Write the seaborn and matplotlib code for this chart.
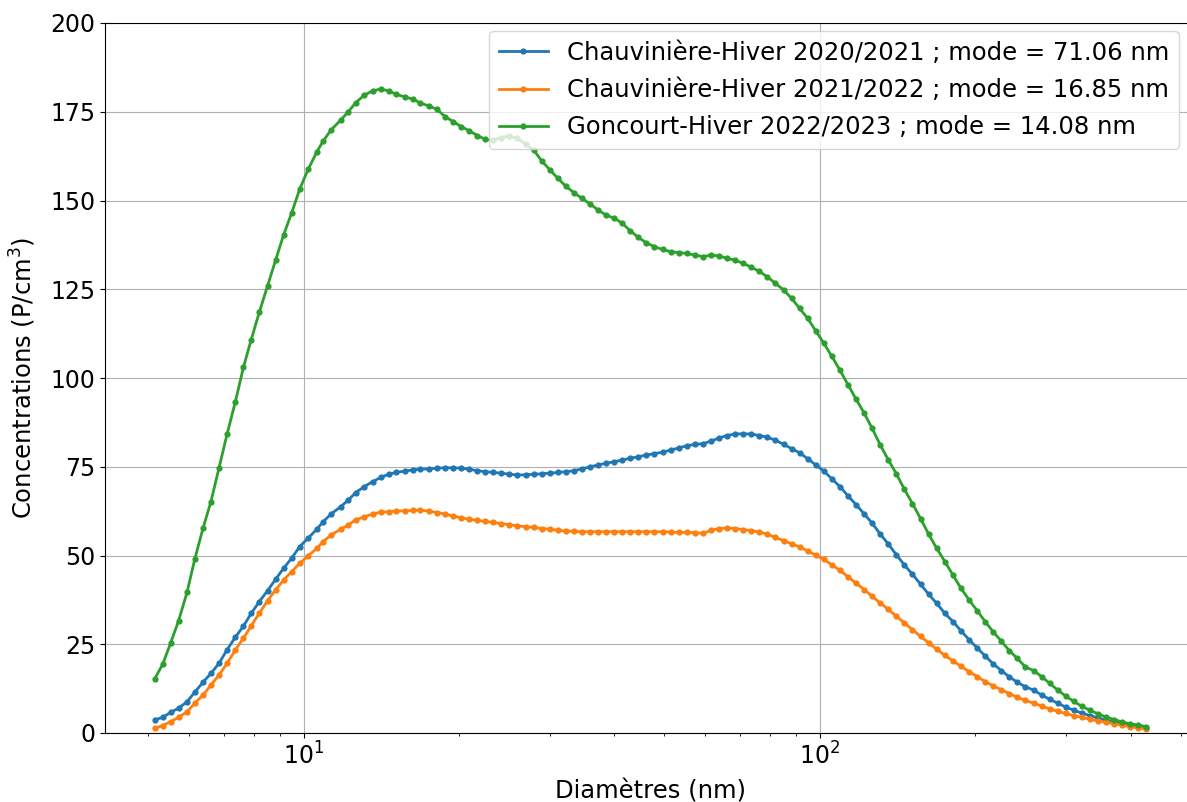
import matplotlib
matplotlib.use("Agg")
import matplotlib.pyplot as plt
import seaborn as sns
import pandas as pd

diametres = [5.14, 5.33, 5.52, 5.72, 5.94, 6.15, 6.38, 6.61, 6.85, 7.10, 7.37, 7.64, 7.91, 8.20, 8.51, 8.82,
             9.14, 9.47, 9.82, 10.2, 10.6, 10.9, 11.3, 11.8, 12.2, 12.6, 13.1, 13.6, 14.1, 14.6, 15.1, 15.7,
             16.3, 16.8, 17.5, 18.1, 18.8, 19.5, 20.2, 20.9, 21.7, 22.5, 23.3, 24.1, 25.0, 25.9, 26.9, 27.9,
             28.9, 30.0, 31.1, 32.2, 33.4, 34.6, 35.9, 37.2, 38.5, 40.0, 41.4, 42.9, 44.5, 46.1, 47.8, 49.6,
             51.4, 53.3, 55.2, 57.3, 59.4, 61.5, 63.8, 66.1, 68.5, 71.0, 73.7, 76.4, 79.1, 82.0, 85.1, 88.2,
             91.4, 94.7, 98.2, 101.8, 105.5, 109.4, 113.4, 117.6, 121.9, 126.3, 131.0, 135.8, 140.7, 145.9,
             151.2, 156.8, 162.5, 168.5, 174.7, 181.1, 187.7, 194.6, 201.7, 209.1, 216.7, 224.7, 232.9, 241.4,
             250.3, 259.5, 269.0, 278.8, 289.0, 299.6, 310.6, 322.0, 333.8, 346.0, 358.7, 371.8, 385.4, 399.5,
             414.2, 429.4]

chauv_2020 = [3.7, 4.4, 5.8, 7.0, 8.8, 11.5, 14.3, 16.8, 19.6, 23.4, 27.0, 30.1, 33.7, 37.0, 40.1, 43.3,
              46.4, 49.2, 52.5, 54.9, 57.4, 59.5, 61.7, 63.8, 65.6, 67.7, 69.4, 70.8, 72.0, 72.9, 73.4, 73.8,
              74.1, 74.3, 74.4, 74.6, 74.7, 74.7, 74.6, 74.3, 73.9, 73.6, 73.4, 73.2, 72.9, 72.7, 72.7, 72.9,
              73.0, 73.2, 73.4, 73.6, 73.9, 74.4, 75.0, 75.5, 76.0, 76.4, 76.9, 77.4, 77.8, 78.3, 78.7, 79.1,
              79.7, 80.3, 80.9, 81.3, 81.5, 82.2, 83.1, 83.8, 84.2, 84.3, 84.2, 83.8, 83.3, 82.5, 81.3, 80.1,
              78.9, 77.3, 75.5, 73.8, 71.6, 69.4, 66.8, 64.3, 61.7, 59.1, 56.0, 53.2, 50.2, 47.3, 44.7, 41.9,
              39.1, 36.5, 33.7, 31.4, 28.8, 26.3, 24.0, 21.7, 19.5, 17.6, 15.8, 14.3, 13.0, 12.1, 10.7, 9.5,
              8.4, 7.3, 6.4, 5.6, 4.9, 4.2, 3.6, 3.0, 2.6, 2.2, 1.8, 1.4]

chauv_2021 = [1.3, 2.1, 3.2, 4.4, 6.0, 8.4, 10.7, 13.5, 16.3, 19.6, 23.4, 26.7, 30.2, 33.7, 37.3, 40.3,
              43.1, 45.4, 47.8, 49.9, 52.0, 53.9, 55.8, 57.4, 58.6, 60.0, 60.9, 61.7, 62.2, 62.3, 62.5, 62.6,
              62.7, 62.8, 62.5, 62.1, 61.7, 61.1, 60.6, 60.2, 59.9, 59.6, 59.3, 59.0, 58.7, 58.4, 58.1, 57.9,
              57.6, 57.4, 57.1, 56.9, 56.8, 56.7, 56.7, 56.7, 56.7, 56.7, 56.7, 56.7, 56.7, 56.7, 56.7, 56.7,
              56.6, 56.5, 56.5, 56.4, 56.2, 57.1, 57.6, 57.7, 57.6, 57.3, 57.0, 56.6, 56.0, 55.1, 54.2, 53.3,
              52.4, 51.3, 50.1, 48.9, 47.4, 45.8, 44.0, 42.2, 40.4, 38.5, 36.6, 34.8, 32.9, 31.0, 29.1, 27.2,
              25.4, 23.6, 21.9, 20.3, 18.8, 17.3, 15.9, 14.5, 13.3, 12.2, 11.1, 10.1, 9.2, 8.4, 7.6, 6.8,
              6.1, 5.5, 4.9, 4.4, 3.9, 3.4, 3.0, 2.6, 2.2, 1.8, 1.4, 1.1]

gonc_2022 = [15.2, 19.4, 25.3, 31.6, 39.6, 49.0, 57.7, 65.2, 74.6, 84.1, 93.3, 103.0, 110.8, 118.5, 126.0, 133.2,
             140.3, 146.4, 153.2, 158.8, 163.7, 166.7, 169.9, 172.7, 175.0, 177.5, 179.7, 180.9, 181.4, 180.9, 179.9, 179.2,
             178.5, 177.5, 176.6, 175.7, 173.6, 172.2, 170.8, 169.7, 168.3, 167.2, 167.0, 167.7, 168.2, 167.5, 165.9, 164.2,
             161.2, 158.6, 156.2, 154.0, 152.2, 150.6, 149.0, 147.3, 145.9, 145.0, 143.6, 141.5, 139.6, 138.1, 137.0, 136.2,
             135.6, 135.3, 135.1, 134.6, 134.2, 134.6, 134.4, 133.7, 133.2, 132.3, 131.2, 130.0, 128.5, 126.7, 124.8, 122.4,
             119.6, 116.8, 113.3, 109.8, 106.1, 102.2, 98.1, 94.0, 90.1, 85.8, 81.1, 76.9, 73.0, 68.6, 64.6, 60.4,
             56.0, 52.0, 48.3, 44.5, 40.8, 37.5, 34.5, 31.4, 28.5, 25.9, 23.2, 21.0, 18.6, 17.6, 15.9, 14.0,
             12.1, 10.4, 8.9, 7.5, 6.4, 5.4, 4.5, 3.8, 3.1, 2.6, 2.2, 1.8]

labels = ["Chauvinière-Hiver 2020/2021 ; mode = 71.06 nm",
          "Chauvinière-Hiver 2021/2022 ; mode = 16.85 nm",
          "Goncourt-Hiver 2022/2023 ; mode = 14.08 nm"]
colors = ["#1f77b4", "#ff7f0e", "#2ca02c"]
series = [chauv_2020, chauv_2021, gonc_2022]

W, H = 1187, 802
fig = plt.figure(figsize=(W / 100, H / 100), dpi=100)
ax = fig.add_axes([105 / W, 69 / H, 1091 / W, (733 - 23) / H])

for lab, col, vals in zip(labels, colors, series):
    df = pd.DataFrame({"d": diametres, "c": vals})
    sns.lineplot(data=df, x="d", y="c", ax=ax, color=col, label=lab,
                 marker=".", markersize=9, linewidth=2, markeredgewidth=0)

ax.set_xscale("log")
ax.set_ylim(0, 200)
ax.set_yticks([0, 25, 50, 75, 100, 125, 150, 175, 200])
ax.grid(True, which="major", color="#b0b0b0", linewidth=0.8)
ax.set_axisbelow(True)
ax.tick_params(labelsize=17)
ax.set_xlabel("Diamètres (nm)", fontsize=17.5, labelpad=7)
ax.set_ylabel("Concentrations (P/cm$^3$)", fontsize=17.5, labelpad=9)
ax.legend(loc="upper right", fontsize=17.5, bbox_to_anchor=(1179 / W, (H - 31) / H),
          bbox_transform=fig.transFigure, borderaxespad=0, labelspacing=0.55)

fig.savefig("out.png", dpi=100)
